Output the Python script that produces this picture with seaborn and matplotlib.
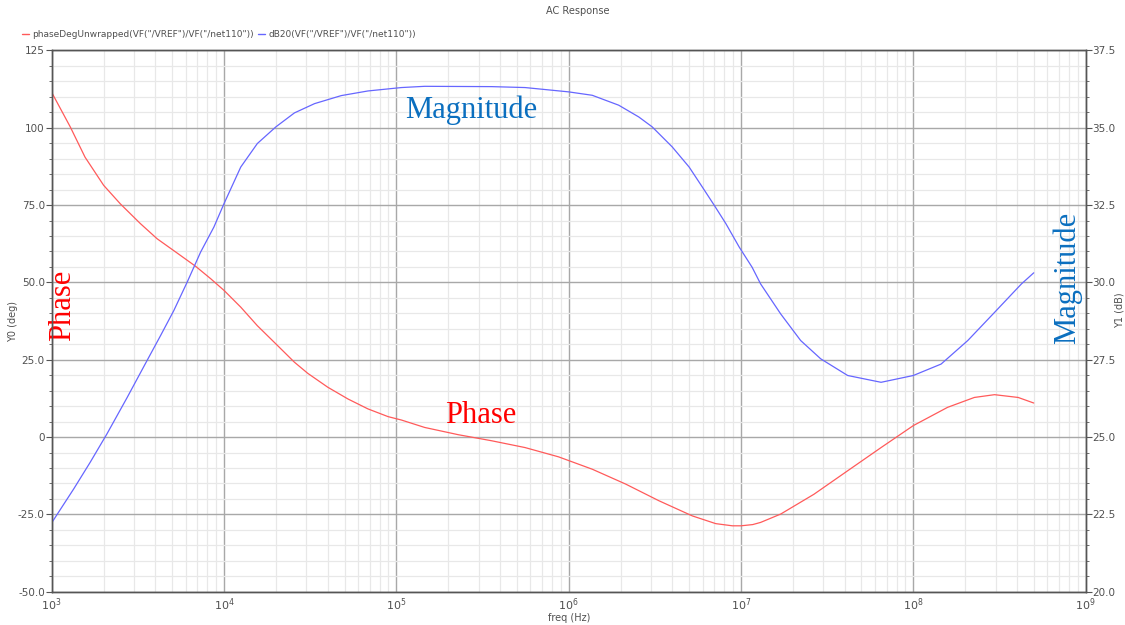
import numpy as np
import pandas as pd
import matplotlib
matplotlib.use("Agg")
import matplotlib.pyplot as plt
import matplotlib.ticker as mticker
from matplotlib.lines import Line2D
import seaborn as sns

# Phase response (degrees, unwrapped)
phase_freq = [1.0e3, 1.28e3, 1.56e3, 2.0e3, 2.5e3, 3.27e3, 4.09e3, 5.34e3, 6.84e3, 8.36e3,
              1.0e4, 1.25e4, 1.56e4, 2.0e4, 2.56e4, 3.06e4, 4.0e4, 5.24e4, 6.84e4, 8.95e4,
              1.07e5, 1.46e5, 2.29e5, 3.57e5, 5.58e5, 8.73e5, 1.37e6, 2.14e6, 3.34e6, 5.22e6,
              7.14e6, 8.91e6, 1.0e7, 1.17e7, 1.30e7, 1.70e7, 2.65e7, 4.16e7, 6.50e7, 1.0e8,
              1.58e8, 2.26e8, 2.96e8, 4.06e8, 5.0e8]
phase_deg = [111.4, 100.3, 90.5, 81.4, 75.4, 69.0, 64.1, 59.5, 55.2, 51.2,
             47.4, 42.0, 36.0, 30.1, 24.2, 20.6, 16.1, 12.3, 9.1, 6.6,
             5.5, 3.1, 0.75, -1.2, -3.4, -6.4, -10.4, -15.2, -20.6, -25.5,
             -28.0, -28.7, -28.7, -28.3, -27.6, -24.9, -18.5, -10.9, -3.4, 3.7,
             9.6, 12.8, 13.7, 12.8, 11.0]

# Magnitude response (dB20)
mag_freq = [1.0e3, 1.34e3, 1.67e3, 2.09e3, 2.74e3, 3.57e3, 4.28e3, 5.11e3, 6.11e3, 7.31e3,
            8.73e3, 1.0e4, 1.25e4, 1.56e4, 2.0e4, 2.56e4, 3.35e4, 4.79e4, 6.84e4, 1.07e5,
            1.46e5, 3.57e5, 5.58e5, 1.0e6, 1.37e6, 1.95e6, 2.55e6, 3.05e6, 3.99e6, 5.0e6,
            5.97e6, 7.0e6, 8.17e6, 9.77e6, 1.16e7, 1.30e7, 1.70e7, 2.22e7, 2.90e7, 4.16e7,
            6.50e7, 1.0e8, 1.45e8, 2.07e8, 2.96e8, 4.24e8, 5.0e8]
mag_db = [22.23, 23.32, 24.18, 25.10, 26.28, 27.47, 28.28, 29.09, 30.01, 30.98,
          31.79, 32.55, 33.73, 34.49, 35.03, 35.48, 35.78, 36.04, 36.19, 36.30,
          36.34, 36.33, 36.30, 36.16, 36.05, 35.73, 35.35, 35.03, 34.38, 33.73,
          33.08, 32.49, 31.90, 31.14, 30.49, 29.95, 28.98, 28.12, 27.53, 26.99,
          26.77, 26.99, 27.36, 28.12, 29.03, 29.95, 30.31]

left_ticks = [125, 100, 75, 50, 25, 0, -25, -50]
left_labels = ["125", "100", "75.0", "50.0", "25.0", "0", "-25.0", "-50.0"]
right_ticks = [37.5, 35.0, 32.5, 30.0, 27.5, 25.0, 22.5, 20.0]
right_labels = ["37.5", "35.0", "32.5", "30.0", "27.5", "25.0", "22.5", "20.0"]

phase_name = 'phaseDegUnwrapped(VF("/VREF")/VF("/net110"))'
mag_name = 'dB20(VF("/VREF")/VF("/net110"))'

PHASE_COLOR = "#ff5a5a"
MAG_COLOR = "#6666ff"
TXT = "#505050"

sns.set_style("white")
plt.rcParams["font.family"] = ["DejaVu Sans"]

fig = plt.figure(figsize=(11.25, 6.25), dpi=100)
ax = fig.add_axes([0.046, 0.0533, 0.919, 0.866])
ax2 = ax.twinx()

phase_df = pd.DataFrame({"freq": phase_freq, "deg": phase_deg})
mag_df = pd.DataFrame({"freq": mag_freq, "db": mag_db})

sns.lineplot(data=phase_df, x="freq", y="deg", ax=ax, color=PHASE_COLOR, linewidth=0.9)
sns.lineplot(data=mag_df, x="freq", y="db", ax=ax2, color=MAG_COLOR, linewidth=0.9)

ax.set_xscale("log")
ax.set_xlim(1e3, 1e9)
ax.set_ylim(-50, 125)
ax2.set_ylim(20, 37.5)

# grid
ax.set_yticks(left_ticks)
ax.set_yticklabels(left_labels)
ax.yaxis.set_minor_locator(mticker.MultipleLocator(5))
ax.xaxis.set_major_locator(mticker.LogLocator(base=10, numticks=12))
ax.xaxis.set_minor_locator(mticker.LogLocator(base=10, subs=np.arange(2, 10), numticks=12))
ax.xaxis.set_minor_formatter(mticker.NullFormatter())
ax.grid(which="major", color="#a8a8a8", linewidth=1.0)
ax.grid(which="minor", color="#e8e8e8", linewidth=0.9)
ax.set_axisbelow(True)

ax2.set_yticks(right_ticks)
ax2.set_yticklabels(right_labels)
ax2.yaxis.set_minor_locator(mticker.MultipleLocator(0.5))
ax2.grid(False)

for a in (ax, ax2):
    for s in a.spines.values():
        s.set_color("#555555")
        s.set_linewidth(1.0)

ax.tick_params(axis="y", which="major", direction="out", length=4, color="#555555",
               labelsize=7.5, labelcolor=TXT, pad=1)
ax.tick_params(axis="y", which="minor", direction="out", length=2.5, color="#555555")
ax.tick_params(axis="x", which="major", direction="inout", length=5, color="#555555",
               labelsize=8, labelcolor=TXT, pad=1)
ax.tick_params(axis="x", which="minor", direction="in", length=3, color="#555555")
ax2.tick_params(axis="y", which="major", direction="out", length=4, color="#555555",
                labelsize=7.5, labelcolor=TXT, pad=1)
ax2.tick_params(axis="y", which="minor", direction="out", length=2.5, color="#555555")

ax.set_xlabel("freq (Hz)", fontsize=7, color=TXT, labelpad=0)
ax.set_ylabel("Y0 (deg)", fontsize=7, color=TXT)
ax2.set_ylabel("Y1 (dB)", fontsize=7, color=TXT, rotation=90)
ax.yaxis.set_label_coords(-0.0326, 0.50)
ax2.yaxis.set_label_coords(1.028, 0.52)

fig.suptitle("AC Response", x=0.514, y=0.99, fontsize=7, color=TXT)

handles = [Line2D([0], [0], color=PHASE_COLOR, linewidth=1),
           Line2D([0], [0], color=MAG_COLOR, linewidth=1)]
fig.legend(handles, [phase_name, mag_name], loc="upper left", bbox_to_anchor=(0.012, 0.965),
           ncol=2, frameon=False, fontsize=6.5, handlelength=0.8, handletextpad=0.4,
           columnspacing=0.4, labelcolor=TXT)

# curve annotations
serif = ["Liberation Serif", "DejaVu Serif"]
ax.text(2.7e5, 105.5, "Magnitude", color="#0b6fbf", fontsize=22, family=serif,
        ha="center", va="center")
ax.text(3.08e5, 7, "Phase", color="#ff0000", fontsize=22, family=serif,
        ha="center", va="center")
ax.text(1.15e3, 42.5, "Phase", color="#ff0000", fontsize=22, family=serif,
        ha="center", va="center", rotation=90)
ax.text(7.8e8, 51.5, "Magnitude", color="#0b6fbf", fontsize=22, family=serif,
        ha="center", va="center", rotation=90)

fig.savefig("out.png", dpi=100, facecolor="white")
